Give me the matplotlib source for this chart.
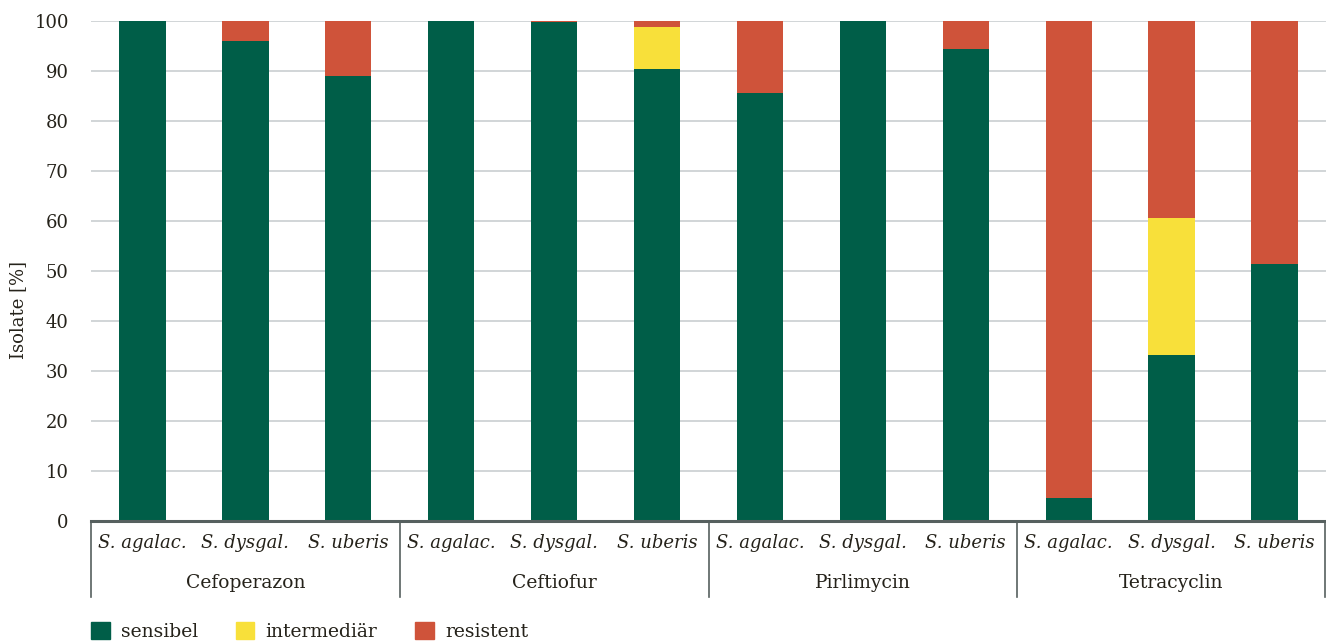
import matplotlib
matplotlib.use("Agg")
import matplotlib.pyplot as plt
from matplotlib.patches import Rectangle
from matplotlib.lines import Line2D
import numpy as np

groups = ["Cefoperazon", "Ceftiofur", "Pirlimycin", "Tetracyclin"]
species = ["S. agalac.", "S. dysgal.", "S. uberis"]
sensibel     = [100, 96, 89,   100, 99.8, 90.4,   85.6, 100, 94.4,   4.7, 33.2, 51.4]
intermediaer = [0, 0, 0,       0, 0, 8.4,         0, 0, 0,           0, 27.4, 0]
resistent    = [0, 4, 11,      0, 0.2, 1.2,       14.4, 0, 5.6,      95.3, 39.4, 48.6]
series_names = ["sensibel", "intermediär", "resistent"]
colors = ["#005e48", "#f8e03a", "#cf533a"]
yticks = [0, 10, 20, 30, 40, 50, 60, 70, 80, 90, 100]

plt.rcParams['font.family'] = ['DejaVu Serif']
text_color = "#25221a"

fig = plt.figure(figsize=(13.26, 6.43), dpi=100)
ax = fig.add_axes([91/1326, 1-521/643, 1-91/1326, 500/643])

n = len(sensibel)
x = np.arange(n)
s = np.array(sensibel); i = np.array(intermediaer); r = np.array(resistent)
w = 0.45
ax.bar(x, s, width=w, color=colors[0], zorder=3)
ax.bar(x, i, width=w, bottom=s, color=colors[1], zorder=3)
ax.bar(x, r, width=w, bottom=s+i, color=colors[2], zorder=3)

ax.set_xlim(-0.5, n-0.5)
ax.set_ylim(0, 100)
ax.set_yticks(yticks)
ax.yaxis.grid(True, color="#c9ced1", linewidth=1.2, zorder=0)
ax.set_axisbelow(True)
for sp in ["top", "right", "left"]:
    ax.spines[sp].set_visible(False)
ax.spines["bottom"].set_color("#56605f")
ax.spines["bottom"].set_linewidth(2.2)
ax.spines["bottom"].set_zorder(4)
ax.tick_params(axis="y", length=0, labelsize=13, colors=text_color, pad=16)
ax.set_xticks([])
fig.text(18/1326, 1-310/643, "Isolate [%]", rotation=90, ha="center", va="center",
         fontsize=13, color=text_color)

# category labels
trans = ax.get_xaxis_transform()
for k in range(n):
    ax.text(k, -0.045, species[k % 3], transform=trans, ha="center", va="center",
            fontsize=13, style="italic", color=text_color)
for g, name in enumerate(groups):
    ax.text(3*g + 1, -0.124, name, transform=trans, ha="center", va="center",
            fontsize=13.5, color=text_color)
for b in range(len(groups)+1):
    xb = 3*b - 0.5
    if b == len(groups):
        xb -= 0.01
    ax.add_line(Line2D([xb, xb], [0, -0.152], transform=trans, color="#56605f",
                       linewidth=1.2, clip_on=False))

# legend
handles = [Rectangle((0, 0), 1, 1, color=c) for c in colors]
fig.legend(handles, series_names, loc="lower left", bbox_to_anchor=(91/1326, 2/643),
           ncol=3, frameon=False, fontsize=13.5, handlelength=1.0, handleheight=1.0,
           columnspacing=2.0, handletextpad=0.6, labelcolor=text_color,
           borderpad=0, borderaxespad=0)

fig.savefig("out.png", dpi=100)
